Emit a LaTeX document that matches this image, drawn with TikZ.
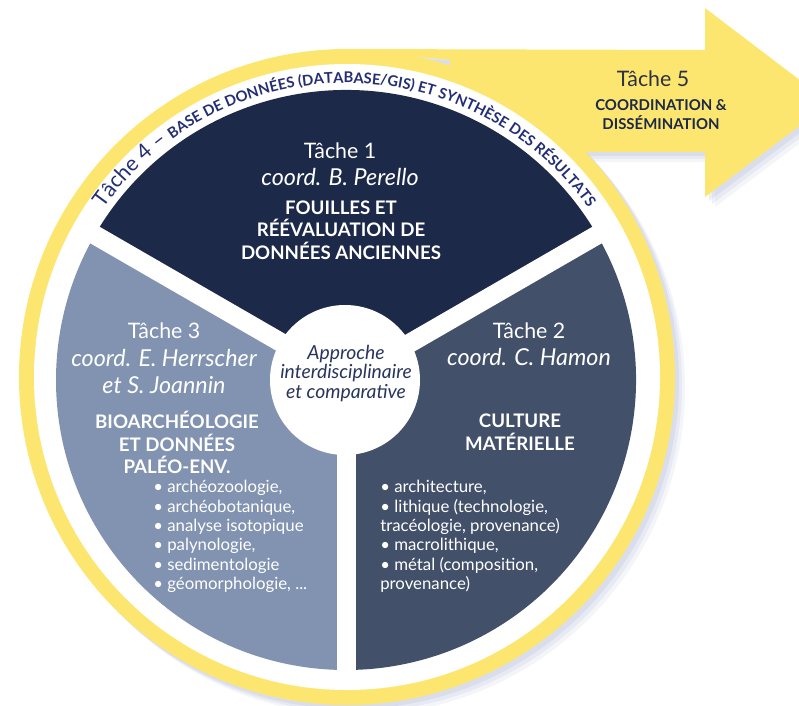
\documentclass[tikz,border=0pt]{standalone}
\usepackage{fontspec}
\setmainfont{Lato}
\usetikzlibrary{calc,decorations.text}

\definecolor{ringyellow}{RGB}{252,230,112}
\definecolor{navyone}{RGB}{28,41,73}
\definecolor{slatetwo}{RGB}{66,80,106}
\definecolor{greythree}{RGB}{129,147,176}
\definecolor{inkblue}{RGB}{36,46,118}
\definecolor{inknavy}{RGB}{40,52,92}
\definecolor{inkdark}{RGB}{45,49,66}
\definecolor{shadowblue}{RGB}{180,186,216}

\begin{document}
\begin{tikzpicture}[x=0.75pt,y=0.75pt,yscale=-1,
    every node/.style={inner sep=0pt, text=white},
    title/.style={font=\fontsize{16}{20.5}\selectfont, align=center},
    heading/.style={font=\bfseries\fontsize{14}{17}\selectfont, align=center},
    items/.style={font=\fontsize{12.6}{14.55}\selectfont, align=left, anchor=west}]
    \useasboundingbox (0,0) rectangle (799,706);
    \clip (0,0) rectangle (799,706);
    \coordinate (c) at (346,380);
    \coordinate (ring) at (347,377);

    %Shape: Shadow
    \foreach \o/\a in {10/0.15,7/0.2,4/0.25} {
      \fill [shadowblue, opacity=\a] (347+\o,377+\o) circle [radius=328];
      \fill [shadowblue, opacity=\a] (347+\o,50+\o) -- (705+\o,50+\o) -- (705+\o,8+\o) -- (830+\o,103+\o) -- (705+\o,197+\o) -- (705+\o,152+\o) -- (450+\o,152+\o) -- cycle;
    }
    %Shape: Yellow circle and arrow (Tache 5)
    \fill [ringyellow] (ring) circle [radius=328];
    \fill [ringyellow] (347,49) -- (705,50) -- (705,8) -- (830,103) -- (705,197) -- (705,152) -- (450,152) -- (450,60) -- cycle;
    \fill [white] (ring) circle [radius=313];

    %Shape: Sectors
    \fill [navyone] (c) -- +(-150:290) arc [start angle=-150, end angle=-30, radius=290] -- cycle;
    \fill [slatetwo] (c) -- +(-30:290) arc [start angle=-30, end angle=90, radius=290] -- cycle;
    \fill [greythree] (c) -- +(90:290) arc [start angle=90, end angle=210, radius=290] -- cycle;
    \foreach \a in {-30,90,210}
      \draw [white, line width=14.25pt] (c) -- +(\a:300);
    \fill [white] (345,380) circle [radius=75];

    %Curved text (Tache 4)
    \path [decorate, decoration={text along path, text align=center, text color=inkblue,
        text={|\fontsize{16}{16}\selectfont|Tâche 4 – |\bfseries\fontsize{11.1}{11.1}\selectfont|BASE DE DONNÉES (DATABASE/GIS) ET SYNTHÈSE DES RÉSULTATS}}]
      ($(c)+(-146:297)$) arc [start angle=-146, end angle=-34, radius=297];

    % Text Node
    \node (t1) [title] at (340,164.5) {Tâche 1\\ {\itshape\fontsize{17.5}{20.5}\selectfont coord. B. Perello}};
    \node (t1head) [heading] at (341,230) {FOUILLES ET\\RÉÉVALUATION DE\\DONNÉES ANCIENNES};
    % Text Node
    \node (t2) [title] at (529,344.5) {Tâche 2\\ {\itshape\fontsize{17.5}{20.5}\selectfont coord. C. Hamon}};
    \node (t2head) [heading] at (520,432.5) {CULTURE\\MATÉRIELLE};
    \node (t2list) [items] at (380,536.5) {• architecture,\\• lithique (technologie,\\tracéologie, provenance)\\• macrolithique,\\• métal (composition,\\provenance)};
    % Text Node
    \node (t3) [title] at (164,358.5) {Tâche 3\\ {\itshape\fontsize{17.5}{20.5}\selectfont coord. E. Herrscher}\\ {\itshape\fontsize{17.5}{20.5}\selectfont et S. Joannin}};
    \node (t3head) [heading] at (177,442.5) {BIOARCHÉOLOGIE\\ET DONNÉES\\PALÉO-ENV.};
    \node (t3list) [items] at (153,536.5) {• archéozoologie,\\• archéobotanique,\\• analyse isotopique\\• palynologie,\\• sedimentologie\\• géomorphologie, ...};
    % Text Node
    \node (centre) [align=center, text=inknavy, font=\itshape\fontsize{14.5}{14.6}\selectfont] at (346,373.5) {Approche\\interdisciplinaire\\et comparative};
    % Text Node
    \node (t5) [title, text=inkdark] at (653,79) {Tâche 5};
    \node (t5head) [align=center, text=navyone, font=\bfseries\fontsize{11.2}{14.6}\selectfont] at (661,114.5) {COORDINATION \&\\DISSÉMINATION};
\end{tikzpicture}
\end{document}
